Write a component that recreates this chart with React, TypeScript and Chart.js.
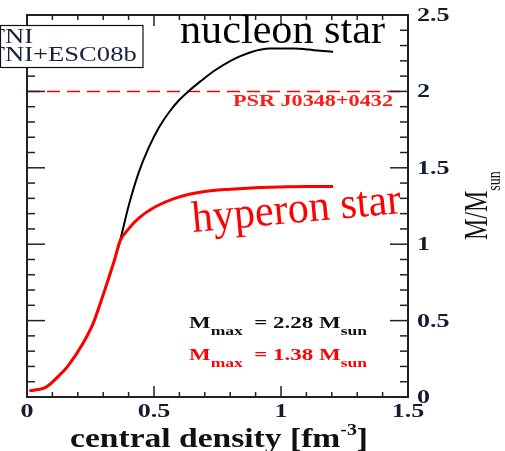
import React, { useEffect, useRef } from "react";
import { Chart, registerables } from "chart.js";

Chart.register(...registerables);

const SERIF = "'Liberation Serif', 'Times New Roman', serif";

// ---- data ----
const hyperonX = [0.01, 0.075, 0.12, 0.16, 0.22, 0.26, 0.29, 0.32, 0.345, 0.366, 0.40, 0.44, 0.50, 0.60, 0.70, 0.80, 0.90, 1.0, 1.1, 1.205];
const hyperonM = [0.04, 0.065, 0.13, 0.20, 0.35, 0.48, 0.62, 0.77, 0.90, 1.02, 1.10, 1.17, 1.24, 1.31, 1.345, 1.36, 1.37, 1.375, 1.378, 1.378];

const nucleonX = [0.01, 0.075, 0.12, 0.16, 0.22, 0.26, 0.29, 0.32, 0.345, 0.366, 0.40, 0.44, 0.48, 0.52, 0.56, 0.60, 0.642, 0.69, 0.733, 0.807, 0.878, 0.957, 1.05, 1.13, 1.205];
const nucleonM = [0.04, 0.065, 0.13, 0.20, 0.35, 0.48, 0.62, 0.77, 0.90, 1.02, 1.25, 1.47, 1.635, 1.765, 1.865, 1.945, 2.01, 2.075, 2.13, 2.205, 2.255, 2.28, 2.28, 2.27, 2.26];

const psrX = [0, 1.5];
const psrM = [2.0, 2.0];

const xTicks = [0, 0.5, 1, 1.5];
const yTicks = [0, 0.5, 1, 1.5, 2, 2.5];

const legendLabels = ["TNI", "TNI+ESC08b"];
const nucleonLabel = "nucleon star";
const hyperonLabel = "hyperon star";
const psrLabel = "PSR J0348+0432";
const nucleonMax = "2.28";
const hyperonMax = "1.38";
const xTitle = "central density [fm";
const yTitle = "M/M";

type Part = { t: string; font: string; dy: number };

function drawRich(
  ctx: CanvasRenderingContext2D,
  parts: Part[],
  x: number,
  y: number,
  color: string,
  opt: { sx?: number; width?: number; align?: "left" | "right" | "center" }
) {
  ctx.save();
  ctx.fillStyle = color;
  ctx.textBaseline = "alphabetic";
  ctx.textAlign = "left";
  const widths = parts.map((p) => {
    ctx.font = p.font;
    return ctx.measureText(p.t).width;
  });
  const total = widths.reduce((a, b) => a + b, 0);
  const sx = opt.width ? opt.width / total : opt.sx ?? 1;
  const w = total * sx;
  const align = opt.align ?? "left";
  const x0 = align === "center" ? x - w / 2 : align === "right" ? x - w : x;
  ctx.translate(x0, y);
  ctx.scale(sx, 1);
  let cx = 0;
  parts.forEach((p, i) => {
    ctx.font = p.font;
    ctx.fillText(p.t, cx, p.dy);
    cx += widths[i];
  });
  ctx.restore();
}

const fmt = (v: number) => Number(v.toFixed(1)).toString();

const decor = {
  id: "decor",
  afterDraw(chart: any) {
    const ctx: CanvasRenderingContext2D = chart.ctx;
    const { left, right, top, bottom } = chart.chartArea;
    const xs = chart.scales.x;
    const ys = chart.scales.y;
    ctx.save();

    // frame
    ctx.strokeStyle = "#222";
    ctx.lineWidth = 2;
    ctx.strokeRect(left, top, right - left, bottom - top);

    // inward ticks
    ctx.lineWidth = 1.5;
    const line = (a: number, b: number, c: number, d: number) => {
      ctx.beginPath();
      ctx.moveTo(a, b);
      ctx.lineTo(c, d);
      ctx.stroke();
    };
    for (let i = 0; i <= 15; i++) {
      const px = xs.getPixelForValue(i / 10);
      const len = i % 5 === 0 ? 11 : 5;
      line(px, bottom, px, bottom - len);
      line(px, top, px, top + len);
    }
    for (let i = 0; i <= 25; i++) {
      const py = ys.getPixelForValue(i / 10);
      const len = i % 5 === 0 ? 18 : 8;
      line(left, py, left + len, py);
      line(right, py, right - len, py);
    }

    // tick labels
    const tickFont = `bold 18px ${SERIF}`;
    const tickColor = "#161c30";
    xs.ticks.forEach((t: any) => {
      const px = xs.getPixelForValue(t.value);
      drawRich(ctx, [{ t: fmt(t.value), font: tickFont, dy: 0 }], px, 417, tickColor, { sx: 1.45, align: "center" });
    });
    ys.ticks.forEach((t: any) => {
      const py = ys.getPixelForValue(t.value);
      drawRich(ctx, [{ t: fmt(t.value), font: tickFont, dy: 0 }], right + 9, py + 6, tickColor, { sx: 1.45, align: "left" });
    });

    // axis titles
    drawRich(
      ctx,
      [
        { t: xTitle, font: `bold 27px ${SERIF}`, dy: 0 },
        { t: "-3", font: `bold 16px ${SERIF}`, dy: -12 },
        { t: "]", font: `bold 27px ${SERIF}`, dy: 0 },
      ],
      70,
      447,
      "#111",
      { width: 298 }
    );
    ctx.save();
    ctx.translate(487, 240);
    ctx.rotate(-Math.PI / 2);
    ctx.scale(1, 1.4);
    drawRich(
      ctx,
      [
        { t: yTitle, font: `24px ${SERIF}`, dy: 0 },
        { t: "sun", font: `14px ${SERIF}`, dy: 9 },
      ],
      0,
      0,
      "#111",
      { sx: 1 }
    );
    ctx.restore();

    // legend box
    ctx.fillStyle = "#fff";
    ctx.fillRect(0, 25, 143, 42);
    ctx.strokeStyle = "#111";
    ctx.lineWidth = 1.2;
    ctx.strokeRect(0.5, 25.5, 142.5, 42);
    ctx.font = `20px ${SERIF}`;
    const tW = ctx.measureText("T").width * 1.33;
    drawRich(ctx, [{ t: legendLabels[0], font: `20px ${SERIF}`, dy: 0 }], 5 - tW, 43, "#1a2040", { sx: 1.33 });
    drawRich(ctx, [{ t: legendLabels[1], font: `20px ${SERIF}`, dy: 0 }], 5 - tW, 61, "#1a2040", { sx: 1.33 });

    // curve labels
    drawRich(ctx, [{ t: nucleonLabel, font: `40px ${SERIF}`, dy: 0 }], 180, 43, "#000", { width: 205 });
    ctx.save();
    ctx.translate(193, 232);
    ctx.rotate((-5.2 * Math.PI) / 180);
    drawRich(ctx, [{ t: hyperonLabel, font: `44px ${SERIF}`, dy: 0 }], 0, 0, "#ff0000", { width: 210 });
    ctx.restore();

    // PSR label
    drawRich(ctx, [{ t: psrLabel, font: `bold 16px ${SERIF}`, dy: 0 }], 393, 106, "#ff1a1a", { width: 160, align: "right" });

    // Mmax labels
    const big = `bold 17px ${SERIF}`;
    const sub = `bold 13px ${SERIF}`;
    const mm = (val: string, yb: number, color: string) =>
      drawRich(
        ctx,
        [
          { t: "M", font: big, dy: 0 },
          { t: "max", font: sub, dy: 7 },
          { t: "  = " + val + " M", font: big, dy: 0 },
          { t: "sun", font: sub, dy: 7 },
        ],
        367,
        yb,
        color,
        { sx: 1.35, align: "right" }
      );
    mm(nucleonMax, 328, "#111");
    mm(hyperonMax, 360, "#ff0000");

    ctx.restore();
  },
};

export default function App() {
  const ref = useRef<HTMLCanvasElement | null>(null);
  useEffect(() => {
    document.body.style.margin = "0";
    const canvas = ref.current;
    if (!canvas) return;
    const chart = new Chart(canvas, {
      type: "scatter",
      data: {
        datasets: [
          {
            label: "hyperon star",
            data: hyperonX.map((x, i) => ({ x, y: hyperonM[i] })),
            showLine: true,
            borderColor: "#ff0000",
            borderWidth: 3,
            pointRadius: 0,
            cubicInterpolationMode: "monotone",
            order: 0,
          },
          {
            label: "nucleon star",
            data: nucleonX.map((x, i) => ({ x, y: nucleonM[i] })),
            showLine: true,
            borderColor: "#000000",
            borderWidth: 2,
            pointRadius: 0,
            cubicInterpolationMode: "monotone",
            order: 1,
          },
          {
            label: "PSR J0348+0432",
            data: psrX.map((x, i) => ({ x, y: psrM[i] })),
            showLine: true,
            borderColor: "#ff0000",
            borderWidth: 1.5,
            borderDash: [13, 7],
            pointRadius: 0,
            order: 2,
          },
        ],
      },
      options: {
        responsive: false,
        animation: false,
        devicePixelRatio: 1,
        layout: { padding: { left: 27, top: 15, right: 0, bottom: 0 } },
        plugins: { legend: { display: false }, tooltip: { enabled: false } },
        scales: {
          x: {
            type: "linear",
            position: "bottom",
            min: xTicks[0],
            max: xTicks[xTicks.length - 1],
            ticks: { stepSize: 0.5, display: false },
            grid: { display: false, drawTicks: false },
            border: { display: false },
            afterFit: (s: any) => {
              s.height = 54;
            },
          },
          y: {
            type: "linear",
            position: "right",
            min: yTicks[0],
            max: yTicks[yTicks.length - 1],
            ticks: { stepSize: 0.5, display: false },
            grid: { display: false, drawTicks: false },
            border: { display: false },
            afterFit: (s: any) => {
              s.width = 97;
            },
          },
        },
      },
      plugins: [decor],
    } as any);
    return () => chart.destroy();
  }, []);
  return <canvas ref={ref} width={505} height={451} style={{ display: "block" }} />;
}
